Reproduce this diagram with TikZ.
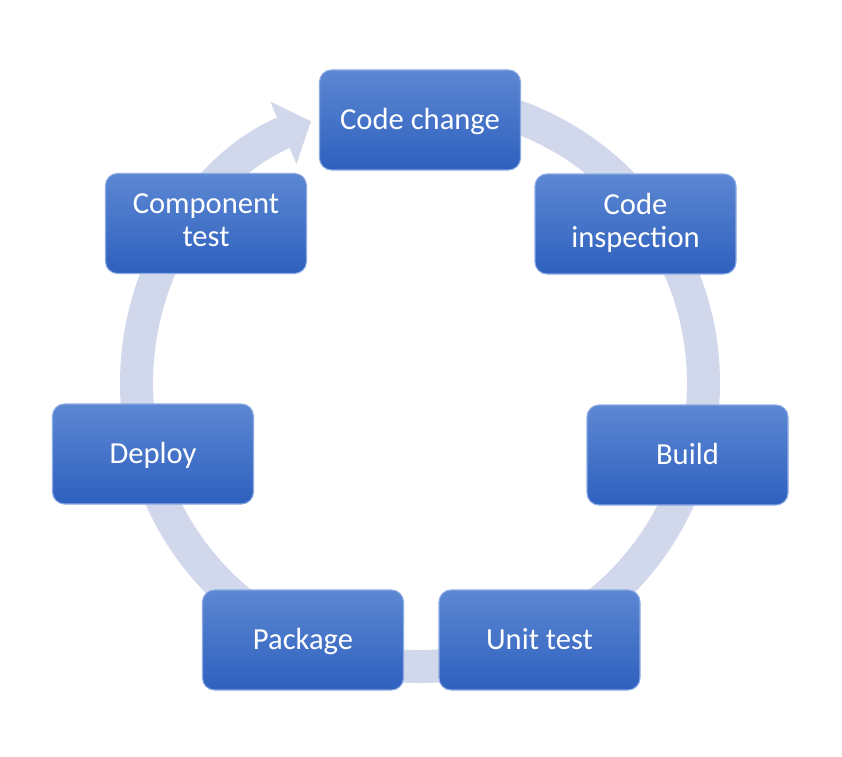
\documentclass[tikz,border=0pt]{standalone}
\usepackage{fontspec}
\setmainfont{Carlito}
\usetikzlibrary{arrows.meta}
\definecolor{ringcol}{RGB}{210,216,236}
\definecolor{boxtop}{RGB}{92,135,210}
\definecolor{boxbot}{RGB}{46,96,190}
\definecolor{boxline}{RGB}{140,170,228}
\newcommand\stepstrut{\rule[-4pt]{0pt}{19pt}}
\tikzset{
  stepnode/.style={rounded corners=0.24cm, minimum width=4.02cm, minimum height=2cm,
    top color=boxtop, bottom color=boxbot, draw=boxline, line width=0.6pt,
    text=white, align=center, font=\fontsize{17.4}{19}\selectfont,
    execute at begin node=\stepstrut, execute at end node=\stepstrut},
  ringarrow/.style={draw=ringcol, line width=0.66cm,
    -{Triangle[length=0.6cm,width=1.32cm]}}
}
\begin{document}
\begin{tikzpicture}
            % picture frame, same proportions as the original
            \useasboundingbox (-8.4,-7.46) rectangle (8.44,7.66);
            % the cycle ring behind the steps
            \draw [ringarrow] (90:5.67) arc [start angle=90, end angle=-247.4, radius=5.67];
            % the steps
            \node [stepnode] (change) at (0,5.26) {Code change};
            \node [stepnode] (inspect) at (4.31,3.18) {Code\\inspection};
            \node [stepnode] (build) at (5.35,-1.44) {Build};
            \node [stepnode] (unit) at (2.39,-5.14) {Unit test};
            \node [stepnode] (package) at (-2.34,-5.14) {Package};
            \node [stepnode] (deploy) at (-5.34,-1.42) {Deploy};
            \node [stepnode] (comptest) at (-4.28,3.19) {Component\\test};
        \end{tikzpicture}
\end{document}
